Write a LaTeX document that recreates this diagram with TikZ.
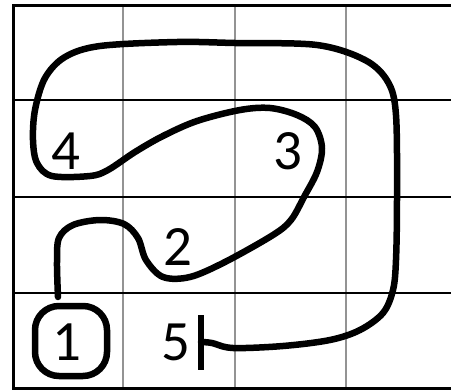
\documentclass[tikz,border=0pt]{standalone}
\usepackage{fontspec}
\setmainfont{Carlito}
\usetikzlibrary{arrows.meta,positioning}
\begin{document}
\begin{tikzpicture}[x=1pt,y=-1pt,
 frame/.style={line width=3pt},
 rowline/.style={line width=1.3pt},
 colline/.style={line width=1.8pt,draw=gray!85},
 digit/.style={font=\fontsize{57}{57}\selectfont,inner sep=0pt},
 ring/.style={draw,line width=6.5pt,rounded corners=24pt,minimum width=72pt,minimum height=70pt},
 route/.style={line width=6.5pt,line cap=round,line join=round}]
 \useasboundingbox (0,0) rectangle (451,391);
 \fill[white] (0,0) rectangle (451,391);
 \foreach \cx in {123,235,346} \draw[colline] (\cx,5)--(\cx,388);
 \foreach \ry in {100,197,293} \draw[rowline] (13,\ry)--(451,\ry);
 \draw[frame] (451,5)--(13,5)--(13,388)--(451,388);
 \node[ring] (ring1) at (71,341) {};
 \node[digit] (n1) at (67,342) {1};
 \node[digit] (n2) at (178,247) {2};
 \node[digit] (n3) at (288,151) {3};
 \node[digit] (n4) at (66,151) {4};
 \node[digit] (n5) at (176,342) {5};
 \coordinate (start) at (58,297);
 \coordinate (stop) at (201,342);
 \draw[route] plot[smooth,tension=.55] coordinates {
 (start) (57,262) (59,238) (73,225) (100,220) (124,224) (138,238) (146,260) (163,277)
 (190,277) (225,262) (273,235) (291,220) (304,197) (317,172) (322,148) (315,127)
 (297,115) (270,108) (240,110) (197,121) (163,136) (135,152) (108,170) (90,176)
 (52,176) (37,163) (33,140) (35,110) (45,78) (65,57) (100,46) (177,42) (235,43)
 (317,45) (365,60) (388,82) (396,115) (397,200) (396,260) (393,290) (383,313)
 (360,330) (330,340) (283,346) (233,348) (212,343) (stop)};
 \draw[route,line cap=butt] (stop) ++(0,-27) -- ++(0,55);
\end{tikzpicture}
\end{document}
